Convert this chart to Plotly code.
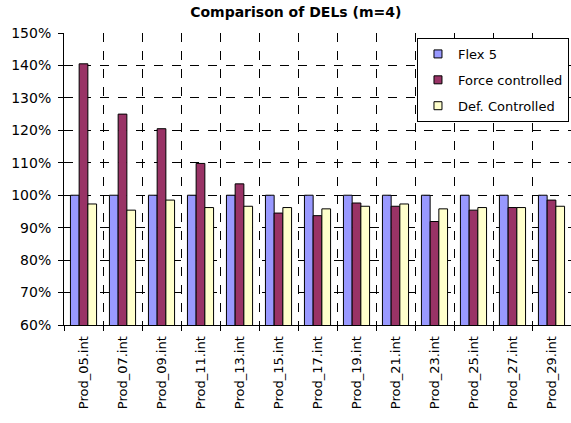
import plotly.graph_objects as go

categories = ["Prod_05.int", "Prod_07.int", "Prod_09.int", "Prod_11.int", "Prod_13.int",
              "Prod_15.int", "Prod_17.int", "Prod_19.int", "Prod_21.int", "Prod_23.int",
              "Prod_25.int", "Prod_27.int", "Prod_29.int"]
flex5 = [100, 100, 100, 100, 100, 100, 100, 100, 100, 100, 100, 100, 100]
force_controlled = [140.5, 125.0, 120.5, 109.8, 103.5, 94.5, 93.7, 97.6, 96.6, 91.9, 95.4, 96.2, 98.5]
def_controlled = [97.3, 95.4, 98.5, 96.2, 96.6, 96.2, 95.8, 96.6, 97.3, 95.8, 96.2, 96.2, 96.6]

series = [
    ("Flex 5", flex5, "#9999FF"),
    ("Force controlled", force_controlled, "#993366"),
    ("Def. Controlled", def_controlled, "#FFFFCC"),
]

FONT = "DejaVu Sans"
fig = go.Figure()
for i, (name, vals, color) in enumerate(series):
    fig.add_trace(go.Bar(
        x=categories, y=[v / 100 for v in vals], name=name,
        marker=dict(color=color, line=dict(color="black", width=1)),
        showlegend=False,
    ))
    fig.add_trace(go.Scatter(
        x=[None], y=[None], mode="markers", name=name, legendgroup=f"g{i}",
        marker=dict(symbol="square", size=8, color=color, line=dict(color="black", width=1)),
    ))

fig.update_layout(
    width=571, height=423,
    margin=dict(l=64, r=0, t=33, b=98, autoexpand=False),
    paper_bgcolor="white", plot_bgcolor="white",
    barmode="group", bargap=0.33, bargroupgap=0,
    font=dict(family=FONT, size=13, color="black"),
    title=dict(text="<b>Comparison of DELs (m=4)</b>", x=0.518, xanchor="center",
               y=0.972, yanchor="middle", font=dict(family=FONT, size=14)),
    legend=dict(x=0.996, y=0.983, xanchor="right", yanchor="top",
                bordercolor="black", borderwidth=1, bgcolor="white",
                font=dict(family=FONT, size=13), tracegroupgap=6,
                itemwidth=30),
    xaxis=dict(type="category", tickson="boundaries", ticks="outside", ticklen=5,
               tickcolor="black", tickangle=-90, showgrid=True, gridcolor="black",
               griddash="dash", gridwidth=1, showline=True, linecolor="black",
               linewidth=1, tickfont=dict(family=FONT, size=13), automargin=False,
               ticklabelstandoff=5),
    yaxis=dict(range=[0.6, 1.5], dtick=0.1, tickformat=".0%", ticks="outside",
               ticklen=5, tickcolor="black", showgrid=True, gridcolor="black",
               griddash="dash", gridwidth=1, showline=True, linecolor="black",
               linewidth=1, zeroline=False, tickfont=dict(family=FONT, size=14),
               automargin=False, ticklabelstandoff=4),
)

fig.write_html("out.html", config={"displayModeBar": False},
               post_script="document.body.style.margin='0';document.body.style.padding='0';")
